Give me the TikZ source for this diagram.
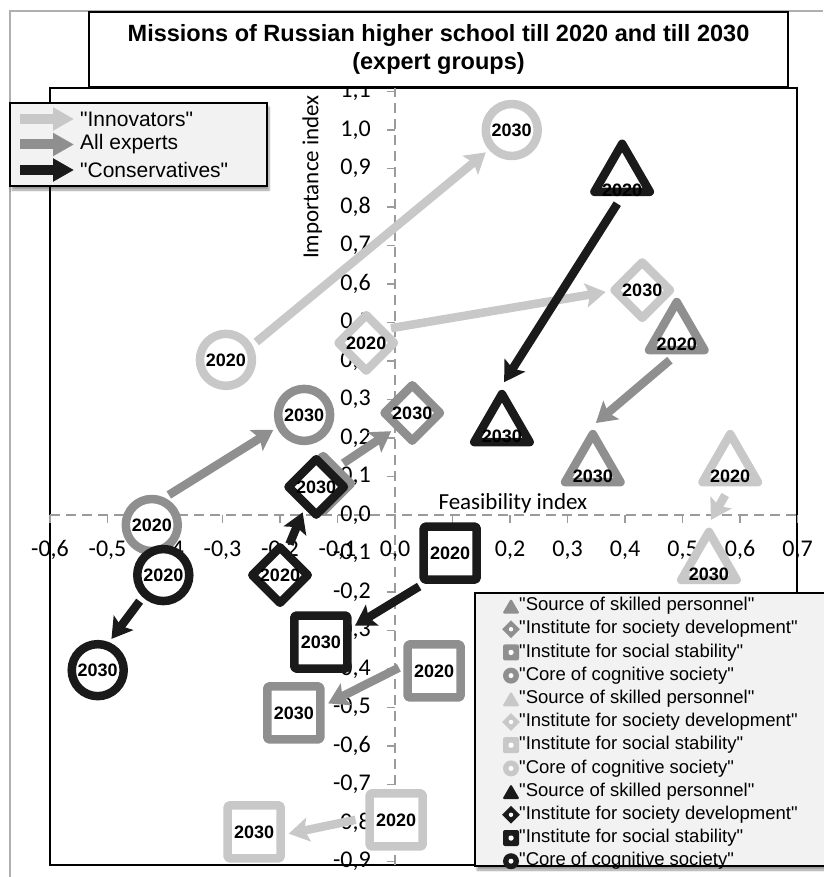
\documentclass[tikz,border=0pt]{standalone}
\usepackage{fontspec}
\setmainfont{Liberation Sans}[Ligatures=TeXOff]
\newfontfamily\calibri{Carlito}
\usetikzlibrary{shapes.geometric, arrows.meta, shadows.blur}

\definecolor{innov}{RGB}{200,200,200}
\definecolor{allexp}{RGB}{143,143,143}
\definecolor{conserv}{RGB}{26,26,26}
\definecolor{keyfill}{RGB}{242,242,242}
\definecolor{axisgray}{RGB}{155,155,155}
\definecolor{framegray}{RGB}{175,175,175}

\tikzset{
  mk/.style={draw=#1, fill=white, line width=8.5pt, inner sep=0pt, line join=round},
  ringmk/.style={mk=#1, circle, minimum size=52pt},
  boxmk/.style={mk=#1, rectangle, minimum size=53pt, rounded corners=1.5pt},
  diamk/.style={mk=#1, diamond, minimum size=59pt},
  trimk/.style={mk=#1, regular polygon, regular polygon sides=3, minimum size=64pt},
  tri20/.style={label={[yshift=-10pt]center:2020}},
  tri30/.style={label={[yshift=-10pt]center:2030}},
  trend/.style={draw=#1, line width=8.5pt, -{Stealth[length=20pt, width=24pt, inset=4pt]}, shorten <=5pt, shorten >=4pt},
  keyarrow/.style={draw=#1, line width=10pt, -{Triangle[length=21pt, width=22pt]}, shorten >=6pt},
  axisline/.style={draw=axisgray, line width=1.8pt, dash pattern=on 10pt off 6pt},
  ticklbl/.style={font=\calibri\fontsize{24}{24}\selectfont, inner sep=0pt},
  axtitle/.style={font=\calibri\fontsize{23}{23}\selectfont, inner sep=0pt},
  keyfrm/.style={fill=keyfill, draw=black, line width=1.5pt, blur shadow={shadow xshift=2pt, shadow yshift=-4pt, shadow blur steps=6}},
  keytxt/.style={anchor=west, inner sep=0pt},
  keytri/.style={regular polygon, regular polygon sides=3, fill=#1, minimum size=20pt, inner sep=0pt, rounded corners=1.5pt, yshift=-2.5pt},
  keydia/.style={diamond, fill=#1, minimum size=18pt, inner sep=0pt, path picture={\fill[white] (path picture bounding box.center) circle (2.2pt);}},
  keysq/.style={rectangle, fill=#1, minimum size=16pt, inner sep=0pt, rounded corners=2pt, path picture={\fill[white] ([shift={(-2.5pt,-2.5pt)}]path picture bounding box.center) rectangle ++(5pt,5pt);}},
  keyring/.style={circle, fill=#1, minimum size=16pt, inner sep=0pt, path picture={\fill[white] (path picture bounding box.center) circle (2.5pt);}}
}

\begin{document}
\begin{tikzpicture}[x=1pt, y=-1pt, every label/.style={font=\bfseries\fontsize{18}{18}\selectfont, inner sep=0pt}]
\useasboundingbox (0,0) rectangle (823,877);
% page frame and plot area
\draw[framegray, line width=1.5pt] (10,877) -- (10,11) -- (823,11);
\draw[black, line width=2pt] (50,88) rectangle (797,865);

\begin{scope}[shift={(395,515)}, x=575pt, y=385pt]
  % axes
  \draw[axisline] (0,-0.909) -- (0,1.11);
  \draw[axisline] (-0.6,0) -- (0.7,0);
  \foreach \v/\t in {-0.9/{-0,9},-0.8/{-0,8},-0.7/{-0,7},-0.6/{-0,6},-0.5/{-0,5},-0.4/{-0,4},-0.3/{-0,3},-0.2/{-0,2},-0.1/{-0,1},0/{0,0},0.1/{0,1},0.2/{0,2},0.3/{0,3},0.4/{0,4},0.5/{0,5},0.6/{0,6},0.7/{0,7},0.8/{0,8},0.9/{0,9},1.0/{1,0},1.1/{1,1}} {
    \draw[axisline] (0,\v) -- ++(-8pt,0);
    \node[ticklbl, anchor=east] at ([xshift=-24pt]0,\v) {\t};
  }
  \foreach \h/\t in {-0.6/{-0,6},-0.5/{-0,5},-0.4/{-0,4},-0.3/{-0,3},-0.2/{-0,2},-0.1/{-0,1},0/{0,0},0.1/{0,1},0.2/{0,2},0.3/{0,3},0.4/{0,4},0.5/{0,5},0.6/{0,6},0.7/{0,7}} {
    \draw[axisline] (\h,0) -- ++(0,-8pt);
    \node[ticklbl] at ([yshift=-35pt]\h,0) {\t};
  }
  \node[axtitle, rotate=90] (ytitle) at (-0.144,0.878) {Importance index};
  \node[axtitle] (xtitle) at (0.205,0.031) {Feasibility index};

  % all experts
  \node[diamk=allexp] (a-dev-20) at (-0.125,0.081) {};
  \node[diamk=allexp, label=center:2030] (a-dev-30) at (0.030,0.265) {};
  \node[ringmk=allexp, label=center:2020] (a-core-20) at (-0.423,-0.026) {};
  \node[ringmk=allexp, label=center:2030] (a-core-30) at (-0.158,0.260) {};
  \node[trimk=allexp, tri20] (a-skill-20) at (0.490,0.470) {};
  \node[trimk=allexp, tri30] (a-skill-30) at (0.344,0.127) {};
  \node[boxmk=allexp, label=center:2020] (a-stab-20) at (0.068,-0.405) {};
  \node[boxmk=allexp, label=center:2030] (a-stab-30) at (-0.176,-0.514) {};
  % conservatives
  \node[ringmk=conserv, label=center:2020] (c-core-20) at (-0.403,-0.156) {};
  \node[ringmk=conserv, label=center:2030] (c-core-30) at (-0.517,-0.403) {};
  \node[diamk=conserv, label=center:2020] (c-dev-20) at (-0.200,-0.156) {};
  \node[diamk=conserv, label=center:2030] (c-dev-30) at (-0.137,0.073) {};
  \node[trimk=conserv, label={[yshift=-14pt]center:2020}] (c-skill-20) at (0.395,0.881) {};
  \node[trimk=conserv, tri30] (c-skill-30) at (0.186,0.231) {};
  \node[boxmk=conserv, label=center:2020] (c-stab-20) at (0.096,-0.099) {};
  \node[boxmk=conserv, label=center:2030] (c-stab-30) at (-0.129,-0.330) {};
  % innovators
  \node[ringmk=innov, label=center:2020] (i-core-20) at (-0.294,0.403) {};
  \node[ringmk=innov, label=center:2030] (i-core-30) at (0.203,1.0) {};
  \node[diamk=innov, label=center:2020] (i-dev-20) at (-0.050,0.447) {};
  \node[diamk=innov, label=center:2030] (i-dev-30) at (0.430,0.584) {};
  \node[trimk=innov, tri20] (i-skill-20) at (0.583,0.127) {};
  \node[trimk=innov, tri30] (i-skill-30) at (0.546,-0.127) {};
  \node[boxmk=innov, label=center:2020] (i-stab-20) at (0.002,-0.792) {};
  \node[boxmk=innov, label=center:2030] (i-stab-30) at (-0.245,-0.823) {};

  % shifts from 2020 to 2030
  \draw[trend=innov] (i-core-20.29) -- (i-core-30.221);
  \draw[trend=innov] (i-dev-20.35) -- (i-dev-30.182);
  \draw[trend=innov, shorten <=10pt] (i-skill-20.south) -- (i-skill-30.north);
  \draw[trend=innov, shorten <=10pt] (i-stab-20.176) -- (i-stab-30.355);
  \draw[trend=allexp] (a-core-20.65) -- (a-core-30.205);
  \draw[trend=allexp] (a-dev-20.48) -- (a-dev-30.222);
  \draw[trend=allexp, shorten <=9pt] (a-skill-20.south) -- (a-skill-30.north);
  \draw[trend=allexp] (a-stab-20.170) -- (a-stab-30.14);
  \draw[trend=conserv] (c-core-20.227) -- (c-core-30.68);
  \draw[trend=conserv] (c-dev-20.74) -- (c-dev-30.241);
  \draw[trend=conserv, shorten <=9pt] (c-skill-20.south) -- (c-skill-30.north);
  \draw[trend=conserv] (c-stab-20.229) -- (c-stab-30.25);
\end{scope}

% title
\node[draw, fill=white, line width=1.5pt, minimum width=699pt, minimum height=75pt, align=center, font=\bfseries\fontsize{23.5}{28}\selectfont] (title) at (438.5,49.5) {Missions of Russian higher school till 2020 and till 2030\\(expert groups)};

% key of expert groups
\path[keyfrm] (10,103) rectangle (267,186);
\foreach \c/\t [count=\r from 0] in {innov/"Innovators", allexp/All experts, conserv/"Conservatives"} {
  \coordinate (ka\r) at (20,119+25.5*\r);
  \node[keytxt, font=\fontsize{21}{22}\selectfont] (kg\r) at (80,119+25.5*\r) {\t};
  \draw[keyarrow=\c] (ka\r) -- (kg\r.west);
}

% key of missions
\path[keyfrm] (475,593) rectangle (830,866);
\foreach \c [count=\g from 0] in {allexp, innov, conserv}
  \foreach \s/\t [count=\k from 0] in {keytri/"Source of skilled personnel", keydia/"Institute for society development", keysq/"Institute for social stability", keyring/"Core of cognitive society"} {
    \pgfmathsetmacro\ky{606+23.2*(4*\g+\k)}
    \node[\s=\c] (km\g\k) at (511,\ky) {};
    \node[keytxt, font=\fontsize{18.5}{19}\selectfont] (kt\g\k) at (519,\ky) {\t};
  }
\end{tikzpicture}
\end{document}
